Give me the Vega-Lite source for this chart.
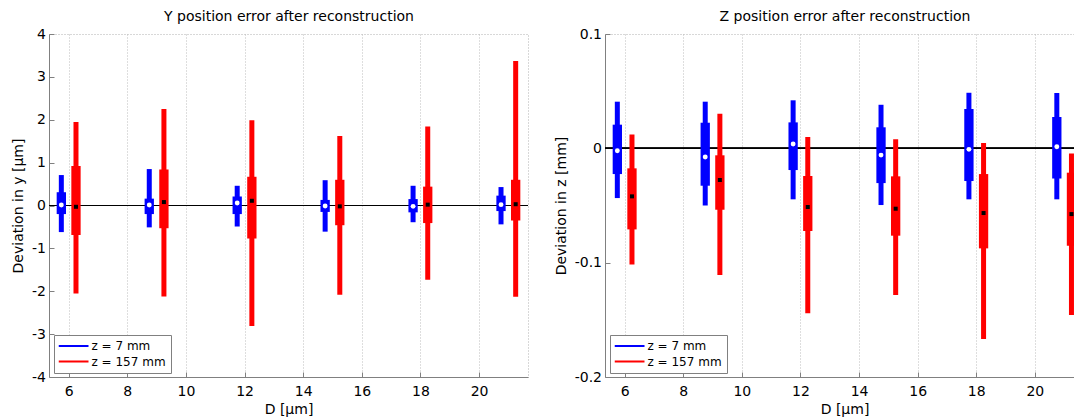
{
  "$schema": "https://vega.github.io/schema/vega-lite/v6.json",
  "background": "white",
  "padding": {"left": 11, "top": 8, "right": 0, "bottom": 0},
  "bounds": "flush",
  "spacing": 77,
  "resolve": {"scale": {"color": "independent"}, "legend": {"color": "independent"}},
  "config": {
    "font": "DejaVu Sans",
    "view": {"stroke": "#b0b0b0", "strokeDash": [1, 2], "strokeWidth": 1},
    "axis": {
      "domainColor": "#808080",
      "domainWidth": 1,
      "tickColor": "#808080",
      "tickSize": -5,
      "gridColor": "#bdbdbd",
      "gridDash": [1, 2],
      "gridWidth": 1,
      "labelFontSize": 14,
      "labelColor": "#000000",
      "labelOverlap": false,
      "titleFontSize": 14,
      "titleFontWeight": "normal",
      "titleColor": "#000000"
    },
    "axisX": {"labelPadding": 12, "titlePadding": 4, "labelFlush": false},
    "axisY": {"labelPadding": 8.5, "titlePadding": 5.7}
  },
  "datasets": {
    "ypos": [
      {"D": 5.75, "set": "z = 7 mm", "lo": -0.62, "q1": -0.20, "med": 0.01, "q3": 0.31, "hi": 0.71},
      {"D": 6.25, "set": "z = 157 mm", "lo": -2.05, "q1": -0.69, "med": -0.03, "q3": 0.92, "hi": 1.95},
      {"D": 8.75, "set": "z = 7 mm", "lo": -0.51, "q1": -0.20, "med": 0.01, "q3": 0.16, "hi": 0.85},
      {"D": 9.25, "set": "z = 157 mm", "lo": -2.12, "q1": -0.53, "med": 0.08, "q3": 0.84, "hi": 2.25},
      {"D": 11.75, "set": "z = 7 mm", "lo": -0.49, "q1": -0.20, "med": 0.06, "q3": 0.21, "hi": 0.46},
      {"D": 12.25, "set": "z = 157 mm", "lo": -2.81, "q1": -0.77, "med": 0.11, "q3": 0.67, "hi": 1.99},
      {"D": 14.75, "set": "z = 7 mm", "lo": -0.61, "q1": -0.15, "med": -0.01, "q3": 0.13, "hi": 0.59},
      {"D": 15.25, "set": "z = 157 mm", "lo": -2.08, "q1": -0.46, "med": -0.02, "q3": 0.60, "hi": 1.62},
      {"D": 17.75, "set": "z = 7 mm", "lo": -0.39, "q1": -0.16, "med": -0.02, "q3": 0.15, "hi": 0.46},
      {"D": 18.25, "set": "z = 157 mm", "lo": -1.73, "q1": -0.41, "med": 0.02, "q3": 0.44, "hi": 1.84},
      {"D": 20.75, "set": "z = 7 mm", "lo": -0.44, "q1": -0.13, "med": 0.02, "q3": 0.23, "hi": 0.43},
      {"D": 21.25, "set": "z = 157 mm", "lo": -2.13, "q1": -0.35, "med": 0.03, "q3": 0.60, "hi": 3.37}
    ],
    "zpos": [
      {"D": 5.75, "set": "z = 7 mm", "lo": -0.0435, "q1": -0.0225, "med": -0.0021, "q3": 0.0207, "hi": 0.0408},
      {"D": 6.25, "set": "z = 157 mm", "lo": -0.1015, "q1": -0.0709, "med": -0.042, "q3": -0.0175, "hi": 0.0122},
      {"D": 8.75, "set": "z = 7 mm", "lo": -0.05, "q1": -0.0327, "med": -0.0076, "q3": 0.0224, "hi": 0.0408},
      {"D": 9.25, "set": "z = 157 mm", "lo": -0.1108, "q1": -0.0537, "med": -0.0277, "q3": -0.0061, "hi": 0.0303},
      {"D": 11.75, "set": "z = 7 mm", "lo": -0.0446, "q1": -0.019, "med": 0.0038, "q3": 0.0227, "hi": 0.042},
      {"D": 12.25, "set": "z = 157 mm", "lo": -0.1443, "q1": -0.0723, "med": -0.0513, "q3": -0.0242, "hi": 0.0099},
      {"D": 14.75, "set": "z = 7 mm", "lo": -0.0496, "q1": -0.0304, "med": -0.0059, "q3": 0.0184, "hi": 0.0381},
      {"D": 15.25, "set": "z = 157 mm", "lo": -0.1283, "q1": -0.0764, "med": -0.0528, "q3": -0.0245, "hi": 0.0079},
      {"D": 17.75, "set": "z = 7 mm", "lo": -0.0446, "q1": -0.0286, "med": -0.0009, "q3": 0.0344, "hi": 0.0486},
      {"D": 18.25, "set": "z = 157 mm", "lo": -0.1668, "q1": -0.0875, "med": -0.0566, "q3": -0.0225, "hi": 0.0046},
      {"D": 20.75, "set": "z = 7 mm", "lo": -0.0446, "q1": -0.0264, "med": 0.0014, "q3": 0.0274, "hi": 0.0484},
      {"D": 21.25, "set": "z = 157 mm", "lo": -0.1458, "q1": -0.0852, "med": -0.0575, "q3": -0.0213, "hi": -0.0045}
    ]
  },
  "hconcat": [
    {
      "width": 479,
      "height": 343,
      "data": {"name": "ypos"},
      "resolve": {"axis": {"x": "independent"}},
      "layer": [
        {
          "mark": {"type": "rule", "color": "#000000", "strokeWidth": 1},
          "encoding": {"y": {"datum": 0, "type": "quantitative"}}
        },
        {
          "mark": {"type": "bar", "size": 5},
          "encoding": {
            "x": {
              "field": "D", "type": "quantitative", "title": "D [µm]",
              "scale": {"domain": [5.5, 21.5], "nice": false, "zero": false},
              "axis": {"values": [6, 8, 10, 12, 14, 16, 18, 20], "format": "d"}
            },
            "y": {
              "field": "lo", "type": "quantitative", "title": "Deviation in y [µm]",
              "scale": {"domain": [-4, 4], "nice": false, "zero": false},
              "axis": {"values": [-4, -3, -2, -1, 0, 1, 2, 3, 4], "labelExpr": "replace(format(datum.value, 'd'), '−', '-')"}
            },
            "y2": {"field": "hi"},
            "color": {
              "field": "set", "type": "nominal",
              "scale": {"domain": ["z = 7 mm", "z = 157 mm"], "range": ["#0000ff", "#ff0000"]},
              "legend": {
                "title": null, "orient": "bottom-left", "offset": 4.5,
                "symbolType": "M-1,-0.067H1V0.067H-1Z", "symbolSize": 900, "symbolStrokeWidth": 0,
                "clipHeight": 13, "rowPadding": 2.5, "labelFontSize": 12, "labelOffset": 3,
                "labelColor": "#000000", "padding": 4.5, "fillColor": "#ffffff",
                "strokeColor": "#808080", "cornerRadius": 0
              }
            }
          }
        },
        {
          "mark": {"type": "bar", "size": 9.3},
          "encoding": {
            "x": {"field": "D", "type": "quantitative", "axis": null},
            "y": {"field": "q1", "type": "quantitative", "title": "Deviation in y [µm]"},
            "y2": {"field": "q3"},
            "color": {"field": "set", "type": "nominal"}
          }
        },
        {
          "transform": [{"filter": {"field": "set", "equal": "z = 7 mm"}}],
          "mark": {"type": "point", "shape": "circle", "filled": true, "color": "#ffffff", "opacity": 1, "size": 24},
          "encoding": {
            "x": {"field": "D", "type": "quantitative", "axis": null},
            "y": {"field": "med", "type": "quantitative", "title": "Deviation in y [µm]"}
          }
        },
        {
          "transform": [{"filter": {"field": "set", "equal": "z = 157 mm"}}],
          "mark": {"type": "point", "shape": "square", "filled": true, "color": "#000000", "opacity": 1, "size": 16},
          "encoding": {
            "x": {
              "field": "D", "type": "quantitative", "title": "Y position error after reconstruction",
              "axis": {"orient": "top", "labels": false, "ticks": false, "domain": false, "grid": false, "titleY": -14, "titleBaseline": "alphabetic", "titlePadding": 0}
            },
            "y": {"field": "med", "type": "quantitative", "title": "Deviation in y [µm]"}
          }
        }
      ]
    },
    {
      "width": 470,
      "height": 343,
      "data": {"name": "zpos"},
      "resolve": {"axis": {"x": "independent"}},
      "layer": [
        {
          "mark": {"type": "rule", "color": "#000000", "strokeWidth": 1, "clip": true},
          "encoding": {"y": {"datum": 0, "type": "quantitative"}}
        },
        {
          "mark": {"type": "bar", "size": 5, "clip": true},
          "encoding": {
            "x": {
              "field": "D", "type": "quantitative", "title": "D [µm]",
              "scale": {"domain": [5.5, 21.2], "nice": false, "zero": false},
              "axis": {"values": [6, 8, 10, 12, 14, 16, 18, 20], "format": "d", "titleX": 239.5}
            },
            "y": {
              "field": "lo", "type": "quantitative", "title": "Deviation in z [mm]",
              "scale": {"domain": [-0.2, 0.1], "nice": false, "zero": false},
              "axis": {"values": [-0.2, -0.1, 0, 0.1], "labelExpr": "datum.value == 0 ? '0' : replace(format(datum.value, '.1f'), '−', '-')"}
            },
            "y2": {"field": "hi"},
            "color": {
              "field": "set", "type": "nominal",
              "scale": {"domain": ["z = 7 mm", "z = 157 mm"], "range": ["#0000ff", "#ff0000"]},
              "legend": {
                "title": null, "orient": "bottom-left", "offset": 4.5,
                "symbolType": "M-1,-0.067H1V0.067H-1Z", "symbolSize": 900, "symbolStrokeWidth": 0,
                "clipHeight": 13, "rowPadding": 2.5, "labelFontSize": 12, "labelOffset": 3,
                "labelColor": "#000000", "padding": 4.5, "fillColor": "#ffffff",
                "strokeColor": "#808080", "cornerRadius": 0
              }
            }
          }
        },
        {
          "mark": {"type": "bar", "size": 9.3, "clip": true},
          "encoding": {
            "x": {"field": "D", "type": "quantitative", "axis": null},
            "y": {"field": "q1", "type": "quantitative", "title": "Deviation in z [mm]"},
            "y2": {"field": "q3"},
            "color": {"field": "set", "type": "nominal"}
          }
        },
        {
          "transform": [{"filter": {"field": "set", "equal": "z = 7 mm"}}],
          "mark": {"type": "point", "shape": "circle", "filled": true, "color": "#ffffff", "opacity": 1, "size": 24, "clip": true},
          "encoding": {
            "x": {"field": "D", "type": "quantitative", "axis": null},
            "y": {"field": "med", "type": "quantitative", "title": "Deviation in z [mm]"}
          }
        },
        {
          "transform": [{"filter": {"field": "set", "equal": "z = 157 mm"}}],
          "mark": {"type": "point", "shape": "square", "filled": true, "color": "#000000", "opacity": 1, "size": 16, "clip": true},
          "encoding": {
            "x": {
              "field": "D", "type": "quantitative", "title": "Z position error after reconstruction",
              "axis": {"orient": "top", "labels": false, "ticks": false, "domain": false, "grid": false, "titleX": 239.5, "titleY": -14, "titleBaseline": "alphabetic", "titlePadding": 0}
            },
            "y": {"field": "med", "type": "quantitative", "title": "Deviation in z [mm]"}
          }
        }
      ]
    }
  ]
}
